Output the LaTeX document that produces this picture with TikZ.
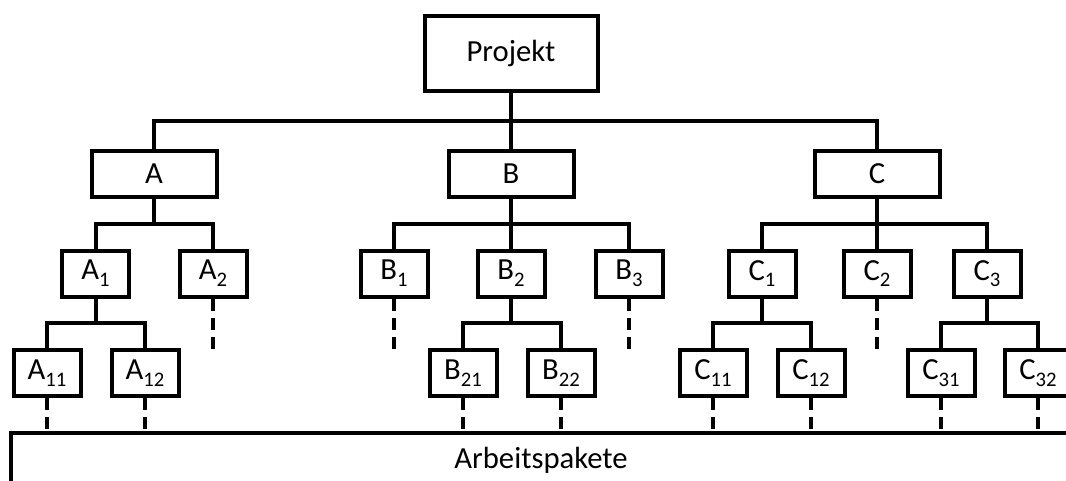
\documentclass[tikz,border=0pt]{standalone}
\usepackage{fontspec}
\setmainfont{Carlito}
\usetikzlibrary{calc}
% lowered, smaller index digits
\newcommand{\idx}[1]{\raisebox{-0.22em}{\fontsize{15.5}{16}\selectfont #1}}
\begin{document}
\begin{tikzpicture}[x=0.75pt,y=-0.75pt,
  every node/.style={font=\fontsize{23}{27}\selectfont},
  box/.style={draw, line width=3pt, inner sep=0pt, align=center},
  top/.style={box, minimum width=173*0.75pt, minimum height=75*0.75pt},
  mid/.style={box, minimum width=125*0.75pt, minimum height=46*0.75pt},
  leaf/.style={box, minimum width=67*0.75pt, minimum height=46*0.75pt},
  link/.style={line width=3pt},
  open/.style={line width=3pt, dash pattern=on 9pt off 5.5pt},
]
\useasboundingbox (0,0) rectangle (1066,480);

% root and first level
\node[top] (P) at (511,53) {Projekt};
\node[mid] (A) at (154,173.5) {A};
\node[mid] (B) at (511,173.5) {B};
\node[mid] (C) at (877,173.5) {C};

% second level
\node[leaf] (A1) at (95.5,273.5) {A\idx{1}};
\node[leaf] (A2) at (213,273.5) {A\idx{2}};
\node[leaf] (B1) at (394,273.5) {B\idx{1}};
\node[leaf] (B2) at (511,273.5) {B\idx{2}};
\node[leaf] (B3) at (629,273.5) {B\idx{3}};
\node[leaf] (C1) at (762,273.5) {C\idx{1}};
\node[leaf] (C2) at (877,273.5) {C\idx{2}};
\node[leaf] (C3) at (987,273.5) {C\idx{3}};

% third level
\node[leaf] (A11) at (47,373) {A\idx{11}};
\node[leaf] (A12) at (145,373) {A\idx{12}};
\node[leaf] (B21) at (463,373) {B\idx{21}};
\node[leaf] (B22) at (561,373) {B\idx{22}};
\node[leaf] (C11) at (713,373) {C\idx{11}};
\node[leaf] (C12) at (811,373) {C\idx{12}};
\node[leaf] (C31) at (941,373) {C\idx{31}};
\node[leaf] (C32) at (1038,373) {C\idx{32}};

% work packages band
\node[box, minimum width=1060*0.75pt, minimum height=54*0.75pt] (W) at (541,460) {Arbeitspakete};

% branch lines
\draw[link] (A.north) |- ($(A.north)!.5!(A.north|-P.south)$) -| (C.north);
\draw[link] (P.south) -- (B.north);

\draw[link] (A1.north) |- ($(A1.north)!.5!(A1.north|-A.south)$) -| (A2.north);
\draw[link] (A.south) -- ($(A.south)!.5!(A.south|-A1.north)$);
\draw[link] (B1.north) |- ($(B1.north)!.5!(B1.north|-B.south)$) -| (B3.north);
\draw[link] (B.south) -- (B2.north);
\draw[link] (C1.north) |- ($(C1.north)!.5!(C1.north|-C.south)$) -| (C3.north);
\draw[link] (C.south) -- (C2.north);

\draw[link] (A11.north) |- ($(A11.north)!.5!(A11.north|-A1.south)$) -| (A12.north);
\draw[link] (A1.south) -- ($(A1.south)!.5!(A1.south|-A11.north)$);
\draw[link] (B21.north) |- ($(B21.north)!.5!(B21.north|-B2.south)$) -| (B22.north);
\draw[link] (B2.south) -- ($(B2.south)!.5!(B2.south|-B21.north)$);
\draw[link] (C11.north) |- ($(C11.north)!.5!(C11.north|-C1.south)$) -| (C12.north);
\draw[link] (C1.south) -- ($(C1.south)!.5!(C1.south|-C11.north)$);
\draw[link] (C31.north) |- ($(C31.north)!.5!(C31.north|-C3.south)$) -| (C32.north);
\draw[link] (C3.south) -- ($(C3.south)!.5!(C3.south|-C31.north)$);

% open ends of branches not broken down further
\coordinate (stop) at (0,352);
\foreach \n in {A2,B1,B3,C2}
  \draw[open] (\n.south) -- (\n.south |- stop);
\foreach \n in {A11,A12,B21,B22,C11,C12,C31,C32}
  \draw[open] (\n.south) -- (\n.south |- W.north);
\end{tikzpicture}
\end{document}
